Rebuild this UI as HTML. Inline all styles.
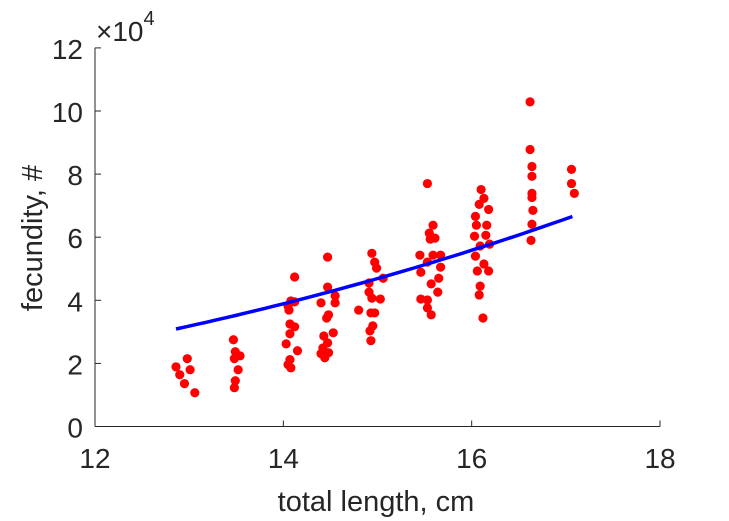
<!DOCTYPE html>
<html><head><meta charset="utf-8"><style>
body{margin:0;background:#fff;}
svg{display:block;font-family:"Liberation Sans",sans-serif;}
</style></head><body>
<svg id="chart" width="729" height="521" viewBox="0 0 729 521">
<g id="axes"></g>
<g id="marks"></g>
</svg>
<script>
const xTicks=[12,14,16,18];
const yTicks=[0,2,4,6,8,10,12];
const lengths=[12.86,12.90,12.95,12.98,13.01,13.06,
13.47,13.49,13.48,13.54,13.52,13.49,13.48,
14.12,14.08,14.12,14.05,14.06,14.07,14.12,14.07,14.03,14.15,14.07,14.05,14.08,
14.47,14.47,14.55,14.40,14.55,14.48,14.46,14.53,14.43,14.47,14.42,14.40,14.48,14.44,
14.94,14.97,14.99,15.06,14.91,14.91,14.94,15.03,14.80,14.93,14.97,14.95,14.92,14.93,
15.53,15.59,15.55,15.56,15.61,15.45,15.59,15.67,15.53,15.46,15.67,15.65,15.57,15.64,15.46,15.53,15.53,15.57,
16.10,16.13,16.08,16.18,16.04,16.05,16.16,16.03,16.15,16.09,16.19,16.04,16.13,16.06,16.18,16.09,16.08,16.12,
16.62,16.62,16.64,16.64,16.64,16.64,16.65,16.64,16.63,
17.06,17.06,17.09];
const fecundity=[1.89,1.64,1.36,2.15,1.80,1.07,
2.75,2.37,2.15,2.24,1.80,1.45,1.23,
4.74,3.98,3.95,3.82,3.69,3.25,3.16,2.94,2.62,2.40,2.12,1.96,1.86,
5.37,4.42,4.14,3.92,3.92,3.54,3.44,2.97,2.87,2.65,2.49,2.31,2.34,2.18,
5.49,5.21,5.02,4.70,4.55,4.26,4.07,4.04,3.69,3.60,3.60,3.19,3.03,2.72,
7.70,6.38,6.13,5.94,5.97,5.43,5.43,5.43,5.21,4.89,5.05,4.70,4.52,4.26,4.04,4.01,3.76,3.54,
7.51,7.23,7.04,6.88,6.66,6.38,6.38,6.03,6.06,5.72,5.78,5.40,5.15,4.93,4.93,4.45,4.17,3.44,
10.29,8.78,8.24,7.93,7.39,7.26,6.85,6.41,5.90,
8.15,7.70,7.39];
const fitRange=[12.86,17.07];
const fitParams=[3.09,12.86,2.71]; // v = a*(x/x0)^b
const NS="http://www.w3.org/2000/svg";
const X=v=>95+(v-12)*94.17, Y=v=>426.5-v*31.55;
function mk(t,a,p){const e=document.createElementNS(NS,t);for(const k in a)e.setAttribute(k,a[k]);p.appendChild(e);return e;}
const ax=document.getElementById('axes'),mk2=document.getElementById('marks');
let l=mk('line',{x1:95,y1:Y(0),x2:660,y2:Y(0),stroke:'#262626','stroke-width':1},ax);


l=mk('line',{x1:95,y1:Y(0),x2:95,y2:Y(12),stroke:'#262626','stroke-width':1},ax);


xTicks.forEach(t=>{mk('line',{x1:X(t),y1:Y(0),x2:X(t),y2:Y(0)-6,stroke:'#262626'},ax);
const e=mk('text',{x:X(t),y:468,'text-anchor':'middle','font-size':28,fill:'#262626'},ax);e.textContent=t;

});
yTicks.forEach(t=>{mk('line',{x1:95,y1:Y(t),x2:101,y2:Y(t),stroke:'#262626'},ax);
const e=mk('text',{x:83,y:Y(t)+11,'text-anchor':'end','font-size':28,fill:'#262626'},ax);e.textContent=t;

});
let e=mk('text',{x:96,y:41,'font-size':28,fill:'#262626'},ax);e.innerHTML='×10<tspan dy="-16" font-size="20">4</tspan>';


e=mk('text',{x:376,y:511,'text-anchor':'middle','font-size':29,fill:'#262626'},ax);e.textContent='total length, cm';


e=mk('text',{x:0,y:0,'text-anchor':'middle','font-size':29,fill:'#262626',transform:'translate(42,238) rotate(-90)'},ax);e.textContent='fecundity, #';


lengths.forEach((x,i)=>{const c=mk('circle',{cx:X(x),cy:Y(fecundity[i]),r:4.6,fill:'#ff0000'},mk2);

});
let pts=[];for(let k=0;k<=40;k++){const x=fitRange[0]+(fitRange[1]-fitRange[0])*k/40;const v=fitParams[0]*Math.pow(x/fitParams[1],fitParams[2]);pts.push(X(x).toFixed(1)+','+Y(v).toFixed(1));}
const p=mk('polyline',{points:pts.join(' '),fill:'none',stroke:'#0000ff','stroke-width':3.5},mk2);


</script>
</body></html>
